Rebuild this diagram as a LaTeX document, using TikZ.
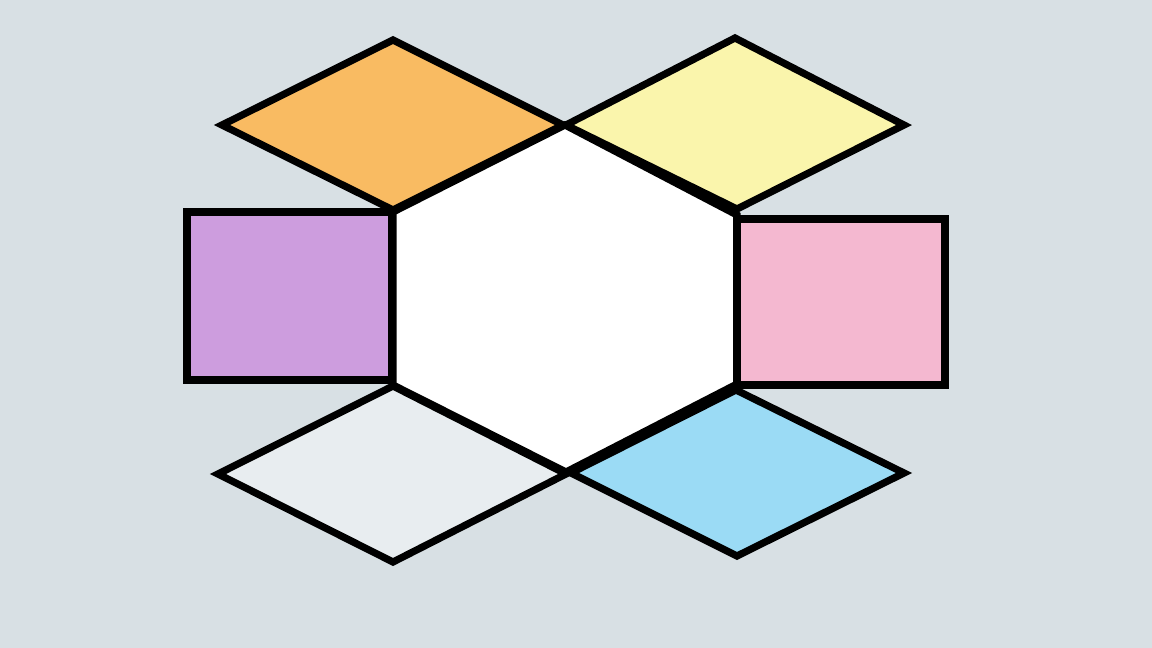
\documentclass[tikz,border=0pt]{standalone}
\usepackage{xcolor}
\usepackage{tikz}

\definecolor{bgGrey}{RGB}{216,224,228}
\definecolor{tileOrange}{RGB}{249,187,98}
\definecolor{tileYellow}{RGB}{250,245,172}
\definecolor{tilePurple}{RGB}{205,157,222}
\definecolor{tilePink}{RGB}{244,184,208}
\definecolor{tilePale}{RGB}{232,237,240}
\definecolor{tileBlue}{RGB}{155,219,245}

\begin{document}
\begin{tikzpicture}[x=0.5pt,y=-0.5pt,
    tile/.style={draw=black,line width=3.6pt,line join=miter}]
                % background and page size
                \fill[bgGrey] (0,0) rectangle (1152,648);
                \useasboundingbox (0,0) rectangle (1152,648);
                % central hexagon
                \draw[tile,fill=white] (565,125) -- (737,215) -- (737,384) -- (566,472) -- (393,385) -- (393,212) -- cycle;
                % rhombi above
                \draw[tile,fill=tileOrange] (222,125) -- (393,40) -- (563,125) -- (393,210) -- cycle;
                \draw[tile,fill=tileYellow] (566,125) -- (735,38) -- (904,125) -- (737,209) -- cycle;
                % side squares
                \draw[tile,fill=tilePurple] (187,212) rectangle (392,380);
                \draw[tile,fill=tilePink] (737,219) rectangle (945,385);
                % rhombi below
                \draw[tile,fill=tilePale] (218,474) -- (393,386) -- (566,474) -- (393,562) -- cycle;
                \draw[tile,fill=tileBlue] (571,473) -- (736,390) -- (904,473) -- (737,556) -- cycle;
            \end{tikzpicture}
\end{document}
